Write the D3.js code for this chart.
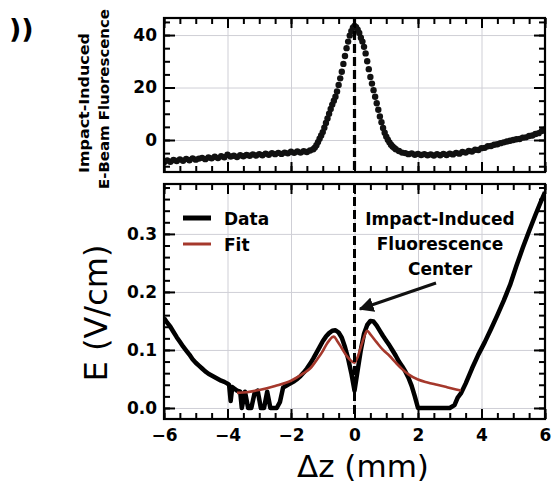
<!DOCTYPE html>
<html><head><meta charset="utf-8">
<script src="https://cdn.jsdelivr.net/npm/d3@7"></script>
<style>body{margin:0;background:#fff;} svg{display:block;}</style>
</head><body>
<script>
// ---- data ----
const topZ = [-6.0,-5.9,-5.8,-5.7,-5.6,-5.5,-5.4,-5.3,-5.2,-5.1,-5.0,-4.9,-4.8,-4.7,-4.6,-4.5,-4.4,-4.3,-4.2,-4.1,-4.0,-3.9,-3.8,-3.7,-3.6,-3.5,-3.4,-3.3,-3.2,-3.1,-3.0,-2.9,-2.8,-2.7,-2.6,-2.5,-2.4,-2.3,-2.2,-2.1,-2.0,-1.9,-1.8,-1.7,-1.6,-1.5,-1.4,
 -1.30,-1.25,-1.20,-1.15,-1.10,-1.05,-1.00,-0.95,-0.90,-0.85,-0.80,-0.75,-0.70,-0.65,-0.60,-0.55,-0.50,-0.45,-0.40,-0.35,-0.30,-0.25,-0.20,-0.15,-0.10,-0.05,0.00,0.05,0.10,0.15,0.20,0.25,0.30,0.35,0.40,0.45,0.50,0.55,0.60,0.65,0.70,0.75,0.80,0.85,0.90,0.95,1.00,1.05,1.10,1.15,1.20,1.25,1.30,
 1.4,1.5,1.6,1.7,1.8,1.9,2.0,2.1,2.2,2.3,2.4,2.5,2.6,2.7,2.8,2.9,3.0,3.1,3.2,3.3,3.4,3.5,3.6,3.7,3.8,3.9,4.0,4.1,4.2,4.3,4.4,4.5,4.6,4.7,4.8,4.9,5.0,5.1,5.2,5.3,5.4,5.5,5.6,5.7,5.8,5.9,6.0];
const topF = [-8.5,-7.8,-8.3,-7.6,-8.0,-7.4,-7.9,-7.2,-7.7,-7.0,-7.5,-7.1,-6.8,-7.3,-6.7,-7.0,-6.4,-6.9,-6.2,-6.6,-5.6,-6.3,-6.0,-6.5,-5.8,-6.2,-5.7,-6.0,-5.5,-5.9,-5.4,-5.8,-5.2,-5.6,-5.0,-5.4,-4.9,-5.3,-4.8,-5.1,-4.5,-4.9,-4.4,-4.8,-4.3,-4.6,-4.0,
 -3.5,-2.9,-2.0,-0.8,0.5,1.7,3.0,4.7,6.5,8.2,10.0,11.8,13.5,15.0,16.5,18.5,21.0,23.5,26.0,29.0,32.0,35.0,37.5,39.8,41.5,42.8,43.5,43.0,42.0,40.8,39.0,37.5,35.5,33.0,30.0,27.0,24.0,21.5,19.0,16.5,14.0,11.5,9.0,6.8,4.6,2.8,1.3,0.1,-0.9,-1.8,-2.5,-3.0,-3.5,
 -4.2,-4.8,-5.0,-5.4,-5.1,-5.6,-5.3,-5.7,-5.4,-5.8,-5.5,-5.9,-5.4,-5.8,-5.3,-5.7,-5.2,-5.5,-4.9,-5.2,-4.6,-4.8,-4.2,-4.4,-3.7,-3.8,-3.1,-3.0,-2.4,-2.3,-1.8,-1.6,-1.2,-0.9,-0.6,-0.3,0.0,0.3,0.4,0.9,1.0,1.5,1.7,2.3,2.6,3.4,4.0];

const dataZ = [-6.0,-5.9,-5.8,-5.7,-5.6,-5.5,-5.4,-5.3,-5.2,-5.1,-5.0,-4.9,-4.8,-4.7,-4.6,-4.5,-4.4,-4.3,-4.2,-4.1,-4.0,-3.95,-3.9,-3.85,-3.8,-3.7,-3.6,
 -3.55,-3.45,-3.35,-3.25,-3.15,-3.05,-2.95,-2.85,-2.75,-2.65,-2.55,-2.45,-2.35,-2.25,-2.1,-2.0,-1.9,-1.8,-1.7,-1.6,-1.5,-1.4,-1.3,-1.2,-1.1,-1.0,-0.9,-0.8,-0.7,-0.6,-0.5,-0.4,-0.3,-0.2,-0.1,0.0,
 0.1,0.2,0.3,0.4,0.5,0.6,0.7,0.8,0.9,1.0,1.1,1.2,1.3,1.4,1.5,1.6,1.7,1.8,1.9,2.0,2.5,3.0,3.15,3.25,3.35,3.5,3.7,3.9,4.1,4.3,4.5,4.7,4.9,5.1,5.3,5.5,5.7,5.85,6.0];
const dataE = [0.155,0.147,0.140,0.131,0.122,0.114,0.106,0.099,0.092,0.084,0.078,0.073,0.068,0.063,0.059,0.056,0.053,0.050,0.047,0.045,0.042,0.040,0.012,0.036,0.034,0.030,0.028,
 0.0,0.028,0.0,0.0,0.025,0.030,0.0,0.0,0.028,0.0,0.0,0.0,0.010,0.035,0.040,0.043,0.046,0.050,0.055,0.061,0.068,0.076,0.085,0.095,0.105,0.115,0.123,0.129,0.133,0.134,0.130,0.121,0.105,0.085,0.060,0.030,
 0.065,0.100,0.128,0.143,0.150,0.149,0.142,0.133,0.124,0.116,0.108,0.099,0.090,0.080,0.072,0.063,0.052,0.038,0.020,0.0,0.0,0.0,0.005,0.018,0.025,0.042,0.068,0.092,0.113,0.136,0.160,0.185,0.212,0.245,0.276,0.305,0.333,0.353,0.372];

const fitZ = [-3.7,-3.4,-3.0,-2.5,-2.0,-1.6,-1.4,-1.2,-1.0,-0.9,-0.8,-0.7,-0.65,-0.55,-0.4,-0.25,-0.1,0.0,0.1,0.2,0.3,0.4,0.5,0.7,0.9,1.1,1.3,1.5,1.7,2.0,2.3,2.6,2.9,3.2,3.35];
const fitE = [0.026,0.027,0.031,0.038,0.047,0.060,0.068,0.082,0.098,0.108,0.116,0.122,0.123,0.116,0.103,0.090,0.081,0.078,0.088,0.105,0.122,0.133,0.127,0.113,0.100,0.090,0.078,0.067,0.058,0.049,0.044,0.040,0.036,0.032,0.030];

const xMajor = [-6,-4,-2,0,2,4,6];
const topYMajor = [0,20,40];
const botYMajor = [0.0,0.1,0.2,0.3];
const legendLabels = ["Data","Fit"];
const annotationLines = ["Impact-Induced","Fluorescence","Center"];

// ---- layout ----
const W = 557, H = 487;
const svg = d3.select("body").append("svg").attr("width", W).attr("height", H);
const L = 164, R = 545;
const topP = {t:18, b:172};
const botP = {t:184, b:419};
const x = d3.scaleLinear().domain([-6,6]).range([L,R]);
const yTop = d3.scaleLinear().domain([-12.2,46.5]).range([topP.b, topP.t]);
const yBot = d3.scaleLinear().domain([-0.019,0.386]).range([botP.b, botP.t]);

const tickFont = "'DejaVu Sans', sans-serif";
const gridCol = "#cfcfd6";
const fmtMinus = d => String(d).replace("-", "\u2212");

function panel(y, P, yMaj, yMinStep) {
  const g = svg.append("g");
  const [y0, y1] = y.domain();
  const yMin = d3.range(Math.ceil(y0 / yMinStep) * yMinStep, y1, yMinStep).map(v => +v.toFixed(4));
  g.append("g").attr("transform", `translate(0,${P.b})`)
    .call(d3.axisBottom(x).tickValues([-4,-2,0,2,4]).tickSize(-(P.b-P.t)).tickFormat(""))
    .call(a => { a.select(".domain").remove(); a.selectAll("line").attr("stroke", gridCol).attr("stroke-width", 1); });
  g.append("g").attr("transform", `translate(${L},0)`)
    .call(d3.axisLeft(y).tickValues(yMaj).tickSize(-(R-L)).tickFormat(""))
    .call(a => { a.select(".domain").remove(); a.selectAll("line").attr("stroke", gridCol).attr("stroke-width", 1); });
  return {g, yMin};
}

function frameAndTicks(g, y, P, yMaj, yMin, yFmt, showX) {
  const style = a => { a.select(".domain").remove(); a.selectAll("line").attr("stroke", "#000").attr("stroke-width", 2); a.selectAll("text").attr("font-family", tickFont).attr("font-weight", "bold").attr("font-size", 17).attr("fill", "#000"); };
  const xMin = d3.range(-6, 6.001, 0.5);
  g.append("g").attr("transform", `translate(0,${P.b})`).call(d3.axisBottom(x).tickValues(xMin).tickSize(-6).tickFormat("")).call(style);
  g.append("g").attr("transform", `translate(0,${P.b})`).call(d3.axisBottom(x).tickValues(xMajor).tickSize(-10).tickPadding(10).tickFormat(showX ? fmtMinus : "")).call(style);
  g.append("g").attr("transform", `translate(0,${P.t})`).call(d3.axisTop(x).tickValues(xMin).tickSize(-6).tickFormat("")).call(style);
  g.append("g").attr("transform", `translate(0,${P.t})`).call(d3.axisTop(x).tickValues(xMajor).tickSize(-10).tickFormat("")).call(style);
  g.append("g").attr("transform", `translate(${L},0)`).call(d3.axisLeft(y).tickValues(yMin).tickSize(-6).tickFormat("")).call(style);
  g.append("g").attr("transform", `translate(${L},0)`).call(d3.axisLeft(y).tickValues(yMaj).tickSize(-11).tickPadding(7).tickFormat(yFmt)).call(style);
  g.append("g").attr("transform", `translate(${R},0)`).call(d3.axisRight(y).tickValues(yMin).tickSize(-6).tickFormat("")).call(style);
  g.append("g").attr("transform", `translate(${R},0)`).call(d3.axisRight(y).tickValues(yMaj).tickSize(-11).tickFormat("")).call(style);
  g.append("rect").attr("x", L).attr("y", P.t).attr("width", R-L).attr("height", P.b-P.t)
    .attr("fill", "none").attr("stroke", "#000").attr("stroke-width", 2.2);
}

// ---- top panel ----
const tp = panel(yTop, topP, topYMajor, 5);
svg.append("clipPath").attr("id","clipT").append("rect").attr("x",L).attr("y",topP.t).attr("width",R-L).attr("height",topP.b-topP.t);
tp.g.append("g").attr("clip-path","url(#clipT)").selectAll("circle").data(topZ.map((z,i)=>[z,topF[i]])).join("circle")
  .attr("cx", d => x(d[0])).attr("cy", d => yTop(d[1])).attr("r", 3.2).attr("fill", "#111");
tp.g.append("line").attr("x1", x(0)).attr("x2", x(0)).attr("y1", topP.t).attr("y2", topP.b)
  .attr("stroke", "#000").attr("stroke-width", 3.2).attr("stroke-dasharray", "9,4");
frameAndTicks(tp.g, yTop, topP, topYMajor, tp.yMin, d => d, false);

// ---- bottom panel ----
const bp = panel(yBot, botP, botYMajor, 0.02);
svg.append("clipPath").attr("id","clipB").append("rect").attr("x",L).attr("y",botP.t).attr("width",R-L).attr("height",botP.b-botP.t);
const lineB = d3.line().x(d => x(d[0])).y(d => yBot(d[1]));
const gB = bp.g.append("g").attr("clip-path","url(#clipB)");
gB.append("path").datum(dataZ.map((z,i)=>[z,dataE[i]])).attr("d", lineB)
  .attr("fill","none").attr("stroke","#000").attr("stroke-width",4.5).attr("stroke-linejoin","round");
gB.append("path").datum(fitZ.map((z,i)=>[z,fitE[i]])).attr("d", lineB.curve(d3.curveMonotoneX))
  .attr("fill","none").attr("stroke","#a5382c").attr("stroke-width",2.6);
bp.g.append("line").attr("x1", x(0)).attr("x2", x(0)).attr("y1", botP.t).attr("y2", botP.b)
  .attr("stroke", "#000").attr("stroke-width", 3).attr("stroke-dasharray", "9,4");
frameAndTicks(bp.g, yBot, botP, botYMajor, bp.yMin, d => d.toFixed(1), true);

// legend
const legCol = ["#000", "#a5382c"];
const legW = [5, 3];
legendLabels.forEach((lab, i) => {
  const yy = 218 + i*26;
  svg.append("line").attr("x1", 183).attr("x2", 211).attr("y1", yy).attr("y2", yy)
    .attr("stroke", legCol[i]).attr("stroke-width", legW[i]);
  svg.append("text").attr("x", 224).attr("y", yy + 7).text(lab)
    .attr("font-family", tickFont).attr("font-weight", "bold").attr("font-size", 17);
});

// annotation
annotationLines.forEach((t, i) => {
  svg.append("text").attr("x", 440).attr("y", 225 + i*25).attr("text-anchor","middle").text(t)
    .attr("font-family", tickFont).attr("font-weight", "bold").attr("font-size", 17);
});
svg.append("defs").append("marker").attr("id","ah").attr("viewBox","0 0 10 10").attr("refX",9).attr("refY",5)
  .attr("markerWidth",5).attr("markerHeight",5).attr("orient","auto").attr("markerUnits","strokeWidth")
  .append("path").attr("d","M0,0L10,5L0,10z").attr("fill","#111");
svg.append("line").attr("x1", 436).attr("y1", 283).attr("x2", 360).attr("y2", 309)
  .attr("stroke","#111").attr("stroke-width",3).attr("marker-end","url(#ah)");

// axis titles
svg.append("text").attr("transform","translate(89,103) rotate(-90)").attr("text-anchor","middle")
  .attr("font-family", tickFont).attr("font-weight","bold").attr("font-size",14.5)
  .attr("textLength",140).attr("lengthAdjust","spacingAndGlyphs").text("Impact-Induced");
svg.append("text").attr("transform","translate(109,99) rotate(-90)").attr("text-anchor","middle")
  .attr("font-family", tickFont).attr("font-weight","bold").attr("font-size",14.5)
  .attr("textLength",180).attr("lengthAdjust","spacingAndGlyphs").text("E-Beam Fluorescence");
svg.append("text").attr("transform","translate(107,313) rotate(-90)").attr("text-anchor","middle")
  .attr("font-family", tickFont).attr("font-size",32).text("E (V/cm)");
svg.append("text").attr("x",363).attr("y",477).attr("text-anchor","middle")
  .attr("font-family", tickFont).attr("font-size",31).text("\u0394z (mm)");
svg.append("text").attr("x",9).attr("y",38).attr("font-family", tickFont).attr("font-weight","bold").attr("font-size",27).text("))");
</script>
</body></html>
